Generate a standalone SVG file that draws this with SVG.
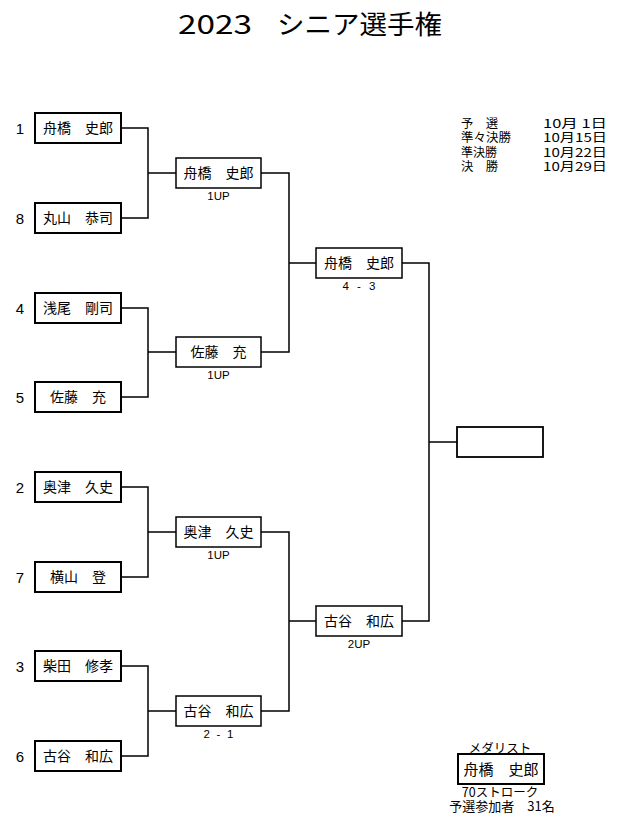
<svg xmlns="http://www.w3.org/2000/svg" width="630" height="825" viewBox="0 0 630 825">
<style>
.bg{fill:#fff}
.box{fill:#fff;stroke:#000;stroke-width:1.5}
.r1{stroke-width:2}
.ln{fill:none;stroke:#000;stroke-width:1.5}
.name{font-family:"Noto Sans CJK JP",sans-serif;font-size:14px;text-anchor:middle;fill:#000}
.seed{font-family:"Liberation Sans",sans-serif;font-size:15px;text-anchor:middle;fill:#000}
.score{font-family:"Liberation Sans","Noto Sans CJK JP",sans-serif;font-size:11.5px;text-anchor:middle;fill:#000}
.info{font-family:"Noto Sans CJK JP",sans-serif;font-size:12px;fill:#000}
.title{font-family:"Noto Sans CJK JP",sans-serif;font-size:26px;fill:#000}
</style>
<rect class="bg" x="0" y="0" width="630" height="825"/>
<text class="title" y="34"><tspan x="178" textLength="74" lengthAdjust="spacingAndGlyphs">2023</tspan><tspan x="277" textLength="165" lengthAdjust="spacingAndGlyphs">シニア選手権</tspan></text>

<g id="dates">
<text class="info" x="461" y="127.5" textLength="37" lengthAdjust="spacingAndGlyphs">予　選</text>
<text class="info" x="461" y="142" textLength="50" lengthAdjust="spacingAndGlyphs">準々決勝</text>
<text class="info" x="461" y="156.5" textLength="36" lengthAdjust="spacingAndGlyphs">準決勝</text>
<text class="info" x="461" y="171" textLength="37" lengthAdjust="spacingAndGlyphs">決　勝</text>
<text class="info" x="543" y="127.5" textLength="64" lengthAdjust="spacingAndGlyphs">10月 1日</text>
<text class="info" x="543" y="142" textLength="64" lengthAdjust="spacingAndGlyphs">10月15日</text>
<text class="info" x="543" y="156.5" textLength="64" lengthAdjust="spacingAndGlyphs">10月22日</text>
<text class="info" x="543" y="171" textLength="64" lengthAdjust="spacingAndGlyphs">10月29日</text>
</g>

<g id="connectors">
<path class="ln" d="M121,128 H148 V218 H121 M148,173 H176"/>
<path class="ln" d="M121,308 H148 V397 H121 M148,352 H176"/>
<path class="ln" d="M121,487 H148 V577 H121 M148,532 H176"/>
<path class="ln" d="M121,666 H148 V756 H121 M148,711 H176"/>
<path class="ln" d="M261,173 H289 V352 H261 M289,263 H316"/>
<path class="ln" d="M261,532 H289 V711 H261 M289,621 H316"/>
<path class="ln" d="M402,263 H429 V621 H402 M429,442 H457"/>
</g>

<g id="seed1"><text class="seed" x="20" y="133.5">1</text><rect class="box r1" x="35" y="113" width="86" height="30"/><text class="name" x="78" y="133.3">舟橋　史郎</text></g>
<g id="seed8"><text class="seed" x="20" y="223.5">8</text><rect class="box r1" x="35" y="203" width="86" height="30"/><text class="name" x="78" y="223.3">丸山　恭司</text></g>
<g id="seed4"><text class="seed" x="20" y="313.5">4</text><rect class="box r1" x="35" y="293" width="86" height="30"/><text class="name" x="78" y="313.3">浅尾　剛司</text></g>
<g id="seed5"><text class="seed" x="20" y="402.5">5</text><rect class="box r1" x="35" y="382" width="86" height="30"/><text class="name" x="78" y="402.3">佐藤　充</text></g>
<g id="seed2"><text class="seed" x="20" y="492.5">2</text><rect class="box r1" x="35" y="472" width="86" height="30"/><text class="name" x="78" y="492.3">奥津　久史</text></g>
<g id="seed7"><text class="seed" x="20" y="582.5">7</text><rect class="box r1" x="35" y="562" width="86" height="30"/><text class="name" x="78" y="582.3">横山　登</text></g>
<g id="seed3"><text class="seed" x="20" y="671.5">3</text><rect class="box r1" x="35" y="651" width="86" height="30"/><text class="name" x="78" y="671.3">柴田　修孝</text></g>
<g id="seed6"><text class="seed" x="20" y="761.5">6</text><rect class="box r1" x="35" y="741" width="86" height="30"/><text class="name" x="78" y="761.3">古谷　和広</text></g>

<g id="qf1"><rect class="box" x="176" y="158" width="85" height="30"/><text class="name" x="218.5" y="178.3">舟橋　史郎</text><text class="score" x="218.5" y="200">1UP</text></g>
<g id="qf2"><rect class="box" x="176" y="337" width="85" height="30"/><text class="name" x="218.5" y="357.3">佐藤　充</text><text class="score" x="218.5" y="379">1UP</text></g>
<g id="qf3"><rect class="box" x="176" y="517" width="85" height="30"/><text class="name" x="218.5" y="537.3">奥津　久史</text><text class="score" x="218.5" y="559">1UP</text></g>
<g id="qf4"><rect class="box" x="176" y="696" width="85" height="30"/><text class="name" x="218.5" y="716.3">古谷　和広</text><text class="score" x="218.5" y="738" textLength="30" lengthAdjust="spacing">2 - 1</text></g>

<g id="sf1"><rect class="box" x="316" y="248" width="86" height="30"/><text class="name" x="359" y="268.3">舟橋　史郎</text><text class="score" x="359" y="290" textLength="33" lengthAdjust="spacing">4 - 3</text></g>
<g id="sf2"><rect class="box" x="316" y="606" width="86" height="30"/><text class="name" x="359" y="626.3">古谷　和広</text><text class="score" x="359" y="648">2UP</text></g>

<g id="final"><rect class="box" x="457" y="427" width="86" height="30" style="stroke-width:1.8"/></g>

<g id="medalist">
<text class="info" x="500" y="752.5" text-anchor="middle" style="font-size:12.5px">メダリスト</text>
<rect class="box r1" x="458" y="754" width="86" height="30"/>
<text class="name" x="501" y="774.5" style="font-size:15px">舟橋　史郎</text>
<text class="info" x="500" y="797" text-anchor="middle" style="font-size:12.5px">70ストローク</text>
<text class="info" x="502" y="811" text-anchor="middle" style="font-size:13px">予選参加者　31名</text>
</g>
</svg>
